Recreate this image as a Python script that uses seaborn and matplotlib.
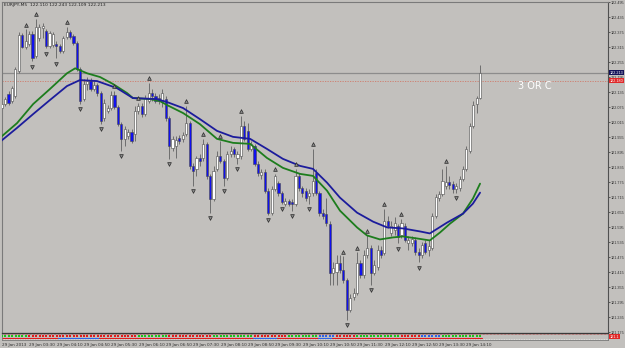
import matplotlib
matplotlib.use("Agg")
import matplotlib.pyplot as plt
import matplotlib.transforms as mtransforms
import numpy as np
import pandas as pd
import seaborn as sns

# ---------------- data (EURJPY, M5) ----------------
opens = [122.071, 122.087, 122.127, 122.099, 122.119, 122.218, 122.362, 122.314, 122.326, 122.366,
         122.278, 122.350, 122.390, 122.378, 122.318, 122.322, 122.326, 122.318, 122.298, 122.354,
         122.374, 122.358, 122.330, 122.226, 122.107, 122.167, 122.179, 122.147, 122.163, 122.131,
         122.031, 122.059, 122.071, 122.123, 122.075, 122.007, 121.948, 121.960, 121.976, 121.968,
         122.059, 122.079, 122.047, 122.099, 122.131, 122.119, 122.111, 122.099, 122.107, 122.031,
         121.912, 121.920, 121.952, 121.948, 121.968, 122.011, 121.840, 121.828, 121.872, 121.872,
         121.928, 121.800, 121.709, 121.828, 121.880, 121.860, 121.793, 121.888, 121.908, 121.872,
         121.880, 121.999, 121.980, 121.908, 121.920, 121.848, 121.804, 121.816, 121.741, 121.653,
         121.749, 121.773, 121.733, 121.689, 121.701, 121.697, 121.689, 121.800, 121.753, 121.741,
         121.721, 121.733, 121.812, 121.733, 121.653, 121.649, 121.609, 121.410, 121.414, 121.450,
         121.422, 121.383, 121.263, 121.315, 121.331, 121.450, 121.402, 121.482, 121.510, 121.410,
         121.434, 121.502, 121.490, 121.621, 121.570, 121.582, 121.598, 121.562, 121.601, 121.530,
         121.530, 121.542, 121.494, 121.482, 121.530, 121.502, 121.510, 121.641, 121.713, 121.729,
         121.761, 121.777, 121.769, 121.749, 121.753, 121.789, 121.828, 121.900, 121.999, 122.087,
         122.110]
highs = [122.099, 122.115, 122.139, 122.159, 122.234, 122.374, 122.370, 122.386, 122.378, 122.378,
         122.429, 122.409, 122.413, 122.386, 122.378, 122.374, 122.338, 122.326, 122.358, 122.397,
         122.382, 122.366, 122.338, 122.234, 122.187, 122.195, 122.191, 122.179, 122.171, 122.139,
         122.107, 122.083, 122.139, 122.139, 122.083, 122.015, 121.999, 121.988, 121.988, 122.079,
         122.091, 122.091, 122.123, 122.171, 122.147, 122.131, 122.127, 122.147, 122.119, 122.039,
         121.960, 121.960, 121.964, 121.976, 122.079, 122.019, 121.852, 121.880, 121.888, 121.948,
         121.936, 121.808, 121.840, 121.900, 121.940, 121.868, 121.900, 121.920, 121.916, 121.900,
         122.039, 122.019, 122.011, 121.940, 121.928, 121.860, 121.828, 121.828, 121.753, 121.761,
         121.808, 121.781, 121.741, 121.713, 121.709, 121.709, 121.828, 121.812, 121.761, 121.753,
         121.749, 121.908, 121.828, 121.741, 121.669, 121.713, 121.621, 121.454, 121.482, 121.482,
         121.478, 121.391, 121.327, 121.351, 121.494, 121.462, 121.502, 121.562, 121.522, 121.462,
         121.522, 121.518, 121.669, 121.641, 121.621, 121.637, 121.609, 121.629, 121.613, 121.558,
         121.558, 121.554, 121.510, 121.534, 121.542, 121.542, 121.653, 121.729, 121.741, 121.828,
         121.840, 121.800, 121.781, 121.773, 121.800, 121.840, 121.920, 122.011, 122.099, 122.119,
         122.243]
lows = [122.051, 122.079, 122.083, 122.091, 122.111, 122.210, 122.310, 122.306, 122.318, 122.258,
        122.270, 122.338, 122.350, 122.310, 122.310, 122.314, 122.270, 122.290, 122.290, 122.346,
        122.346, 122.322, 122.218, 122.087, 122.099, 122.143, 122.139, 122.139, 122.119, 122.007,
        122.019, 122.051, 122.063, 122.067, 121.999, 121.900, 121.920, 121.948, 121.932, 121.940,
        122.047, 122.035, 122.039, 122.091, 122.099, 122.091, 122.087, 122.075, 122.019, 121.868,
        121.900, 121.872, 121.928, 121.936, 121.960, 121.828, 121.761, 121.800, 121.840, 121.860,
        121.789, 121.653, 121.701, 121.820, 121.852, 121.761, 121.785, 121.876, 121.876, 121.848,
        121.868, 121.940, 121.900, 121.900, 121.840, 121.800, 121.789, 121.733, 121.645, 121.645,
        121.741, 121.721, 121.689, 121.681, 121.681, 121.661, 121.681, 121.741, 121.717, 121.701,
        121.689, 121.721, 121.725, 121.641, 121.629, 121.601, 121.363, 121.363, 121.363, 121.410,
        121.371, 121.223, 121.255, 121.303, 121.323, 121.391, 121.391, 121.470, 121.363, 121.402,
        121.422, 121.470, 121.482, 121.590, 121.558, 121.562, 121.530, 121.550, 121.534, 121.502,
        121.518, 121.482, 121.454, 121.470, 121.486, 121.478, 121.502, 121.633, 121.701, 121.721,
        121.749, 121.749, 121.733, 121.733, 121.741, 121.781, 121.820, 121.892, 121.992, 122.051,
        122.109]
closes = [122.087, 122.107, 122.091, 122.151, 122.226, 122.362, 122.314, 122.338, 122.366, 122.270,
          122.397, 122.397, 122.401, 122.318, 122.370, 122.366, 122.318, 122.298, 122.350, 122.374,
          122.354, 122.330, 122.226, 122.099, 122.167, 122.179, 122.147, 122.163, 122.131, 122.019,
          122.091, 122.071, 122.123, 122.075, 122.007, 121.948, 121.988, 121.976, 121.940, 122.059,
          122.079, 122.047, 122.111, 122.131, 122.119, 122.099, 122.099, 122.131, 122.031, 121.920,
          121.948, 121.944, 121.940, 121.964, 122.011, 121.840, 121.820, 121.872, 121.860, 121.928,
          121.800, 121.709, 121.820, 121.880, 121.860, 121.793, 121.888, 121.900, 121.888, 121.888,
          121.999, 121.948, 121.908, 121.928, 121.848, 121.812, 121.816, 121.741, 121.653, 121.749,
          121.800, 121.733, 121.697, 121.701, 121.689, 121.689, 121.800, 121.753, 121.733, 121.713,
          121.733, 121.781, 121.733, 121.653, 121.641, 121.613, 121.410, 121.430, 121.450, 121.422,
          121.383, 121.263, 121.311, 121.331, 121.450, 121.402, 121.482, 121.510, 121.410, 121.442,
          121.502, 121.482, 121.621, 121.601, 121.601, 121.613, 121.554, 121.613, 121.542, 121.542,
          121.546, 121.494, 121.482, 121.522, 121.494, 121.518, 121.641, 121.717, 121.729, 121.781,
          121.777, 121.765, 121.749, 121.761, 121.789, 121.828, 121.908, 121.999, 122.083, 122.110,
          122.213]

# fractal markers (bar indices)
fractal_up = [7, 10, 19, 33, 40, 43, 54, 59, 64, 70, 80, 86, 91, 100, 104, 107, 112, 117, 130]
fractal_down = [9, 13, 16, 23, 29, 35, 49, 56, 61, 65, 69, 78, 82, 85, 90, 101, 108, 116, 122, 133]

# moving averages (bar index, price)
ma_blue_idx = [-0.5, 4.5, 9.2, 14.1, 19.1, 22.9, 27.9, 33.7, 38.4, 45.4, 48.4, 53.1, 58.0, 63.0,
               67.7, 72.7, 77.6, 82.3, 87.3, 91.1, 95.2, 99.0, 104.0, 108.7, 112.8, 117.4, 122.4,
               125.3, 130.3, 135.0, 137.9, 140.0]
ma_blue_val = [121.936, 121.992, 122.047, 122.103, 122.159, 122.183, 122.179, 122.151, 122.111,
               122.107, 122.095, 122.071, 122.027, 121.980, 121.956, 121.948, 121.908, 121.868,
               121.840, 121.828, 121.773, 121.713, 121.653, 121.617, 121.594, 121.590, 121.578,
               121.570, 121.613, 121.649, 121.689, 121.733]
ma_green_idx = [-0.5, 4.5, 9.2, 14.1, 19.1, 21.5, 25.0, 28.8, 32.6, 36.7, 38.4, 43.4, 46.3, 48.4,
                53.1, 58.0, 63.0, 67.7, 72.7, 77.6, 82.3, 87.3, 91.1, 95.2, 99.0, 104.0, 106.9,
                110.7, 114.5, 117.4, 121.5, 125.3, 128.3, 131.2, 135.0, 137.9, 140.0]
ma_green_val = [121.952, 122.011, 122.087, 122.147, 122.210, 122.230, 122.210, 122.195, 122.167,
                122.131, 122.111, 122.107, 122.099, 122.083, 122.051, 122.007, 121.948, 121.932,
                121.928, 121.872, 121.832, 121.808, 121.800, 121.741, 121.661, 121.594, 121.562,
                121.546, 121.554, 121.558, 121.550, 121.542, 121.574, 121.609, 121.649, 121.709,
                121.769]

price_ticks = [121.175, 121.235, 121.295, 121.355, 121.415, 121.475, 121.535, 121.595, 121.655,
               121.715, 121.775, 121.835, 121.895, 121.955, 122.015, 122.075, 122.135, 122.195,
               122.255, 122.315, 122.375, 122.435, 122.495]
time_tick_idx = [0, 8, 16, 24, 32, 40, 48, 56, 64, 72, 80, 88, 96, 104, 112, 120, 128, 136]
time_labels = ["29 Jan 2013", "29 Jan 03:30", "29 Jan 04:10", "29 Jan 04:50", "29 Jan 05:30",
               "29 Jan 06:10", "29 Jan 06:50", "29 Jan 07:30", "29 Jan 08:10", "29 Jan 08:50",
               "29 Jan 09:30", "29 Jan 10:10", "29 Jan 10:50", "29 Jan 11:30", "29 Jan 12:10",
               "29 Jan 12:50", "29 Jan 13:30", "29 Jan 14:10"]

bid_price = 122.213
line_price = 122.180
header = "EURJPY,M5  122.110 122.243 122.109 122.213"
note = "3 OR C"

# indicator strip colour runs
strip_top_start = [0, 8, 40, 49, 62, 74, 84, 93, 98, 104, 117, 123, 129]
strip_top_end = [8, 40, 49, 62, 74, 84, 93, 98, 104, 117, 123, 129, 141]
strip_top_col = ['g', 'r', 'g', 'r', 'g', 'r', 'g', 'b', 'r', 'g', 'r', 'b', 'g']
strip_low_start = [0, 17, 29, 74, 81, 93, 97]
strip_low_end = [17, 29, 74, 81, 93, 97, 141]
strip_low_col = ['r', 'b', 'r', 'b', 'r', 'b', 'r']
strip_label = "121.1"

# ---------------- styling ----------------
sns.set_style("white")
plt.rcParams['font.family'] = ['DejaVu Sans']
SMALL = ['Liberation Sans', 'DejaVu Sans']

BG = '#c2c0bd'
W, H = 625, 348
fig = plt.figure(figsize=(W / 100, H / 100), dpi=100)
fig.patch.set_facecolor(BG)

ax = fig.add_axes([2 / W, 15 / H, 606 / W, 331 / H])
ax.set_facecolor(BG)

df = pd.DataFrame({"o": opens, "h": highs, "l": lows, "c": closes})
df["idx"] = np.arange(len(df))
bull = df["c"] >= df["o"]

ax.vlines(df["idx"], df["l"], df["h"], color='#6e6e6e', lw=0.7, zorder=2)
body_bottom = np.minimum(df["o"], df["c"])
body_h = np.abs(df["c"] - df["o"])
ax.bar(df["idx"], body_h, bottom=body_bottom, width=0.62,
       color=np.where(bull, '#ffffff', '#1010f0'), edgecolor='#4a4a4a', linewidth=0.4, zorder=3)

blue_df = pd.DataFrame({"idx": ma_blue_idx, "price": ma_blue_val})
green_df = pd.DataFrame({"idx": ma_green_idx, "price": ma_green_val})
sns.lineplot(data=green_df, x="idx", y="price", color='#1d7d1d', lw=1.3, ax=ax, zorder=4)
sns.lineplot(data=blue_df, x="idx", y="price", color='#1c1c9c', lw=1.3, ax=ax, zorder=4)

up = df.loc[fractal_up]
dn = df.loc[fractal_down]
ax.scatter(up["idx"], up["h"] + 0.019, marker='^', s=7, c='#8a8a8a', edgecolors='#2a2a2a',
           linewidths=0.5, zorder=5)
ax.scatter(dn["idx"], dn["l"] - 0.021, marker='v', s=7, c='#8a8a8a', edgecolors='#2a2a2a',
           linewidths=0.5, zorder=5)

ax.axhline(bid_price, color='#8c8c8c', lw=0.9, zorder=1)
ax.axhline(line_price, color='#d07a6a', lw=0.6, ls=(0, (1.5, 1.5)), zorder=1)

ax.set_xlim(0.09, 177.44)
ax.set_ylim(121.172, 122.489)
ax.set_xlabel("")
ax.set_ylabel("")
ax.set_xticks([])
ax.yaxis.tick_right()
ax.set_yticks(price_ticks)
ax.set_yticklabels([f"{p:.3f}" for p in price_ticks])
ax.tick_params(axis='y', labelsize=2.7, length=1.5, width=0.5, pad=0.6, colors='#303030')
for lbl in ax.get_yticklabels():
    lbl.set_family(SMALL)
for s in ax.spines.values():
    s.set_linewidth(0.8)
    s.set_color('#7a7a7a')
ax.spines['right'].set_color('#505050')

# price boxes on the right
trans = mtransforms.blended_transform_factory(ax.transAxes, ax.transData)
ax.text(1.003, bid_price, f"{bid_price:.3f}", transform=trans, fontsize=2.7, color='white',
        va='center', ha='left', zorder=10, clip_on=False, family=SMALL,
        bbox=dict(boxstyle='square,pad=0.15', fc='#14145a', ec='none'))
ax.text(1.003, line_price, f"{line_price:.3f}", transform=trans, fontsize=2.7, color='white',
        va='center', ha='left', zorder=10, clip_on=False, family=SMALL,
        bbox=dict(boxstyle='square,pad=0.15', fc='#e02828', ec='none'))

fig.text(4 / W, 1 - 5 / H, header, fontsize=3.2, color='#202020', va='center', ha='left')
fig.text(518 / W, 1 - 89 / H, note, fontsize=7, color='white', va='baseline', ha='left')

# ---------------- indicator strip ----------------
sx = fig.add_axes([2 / W, 8 / H, 606 / W, 7 / H])
sx.set_facecolor(BG)
cmap = {'r': '#e01c1c', 'g': '#1cc41c', 'b': '#2f62e6'}
for a, b, c in zip(strip_top_start, strip_top_end, strip_top_col):
    xs = np.arange(a, b)
    sx.scatter(xs, np.full(len(xs), 0.62), s=1.6, c=cmap[c], marker='s', linewidths=0, zorder=3)
for a, b, c in zip(strip_low_start, strip_low_end, strip_low_col):
    sx.plot([a - 0.5, b - 0.5], [0.35, 0.35], color=cmap[c], lw=0.8, zorder=2)
sx.axhline(0.8, color='#c04040', lw=0.5, ls=(0, (1, 1)), zorder=1)
sx.axhline(0.12, color='#e8e8e8', lw=0.6, ls=(0, (1, 1)), zorder=1)
sx.set_xlim(0.09, 177.44)
sx.set_ylim(0, 1)
sx.set_yticks([])
sx.set_xticks(time_tick_idx)
sx.set_xticklabels(time_labels)
sx.tick_params(axis='x', labelsize=3, length=1.5, width=0.5, pad=1, colors='#303030')
for lbl in sx.get_xticklabels():
    lbl.set_horizontalalignment('left')
for s in sx.spines.values():
    s.set_linewidth(0.6)
    s.set_color('#7a7a7a')
sx.spines['top'].set_color('#3a3a3a')
sx.spines['top'].set_linewidth(0.9)
sx.text(1.003, 0.5, strip_label, transform=sx.transAxes, fontsize=2.7, color='white', va='center',
        ha='left', clip_on=False, family=SMALL,
        bbox=dict(boxstyle='square,pad=0.15', fc='#e02828', ec='none'))

fig.savefig("out.png", dpi=100, facecolor=BG)
